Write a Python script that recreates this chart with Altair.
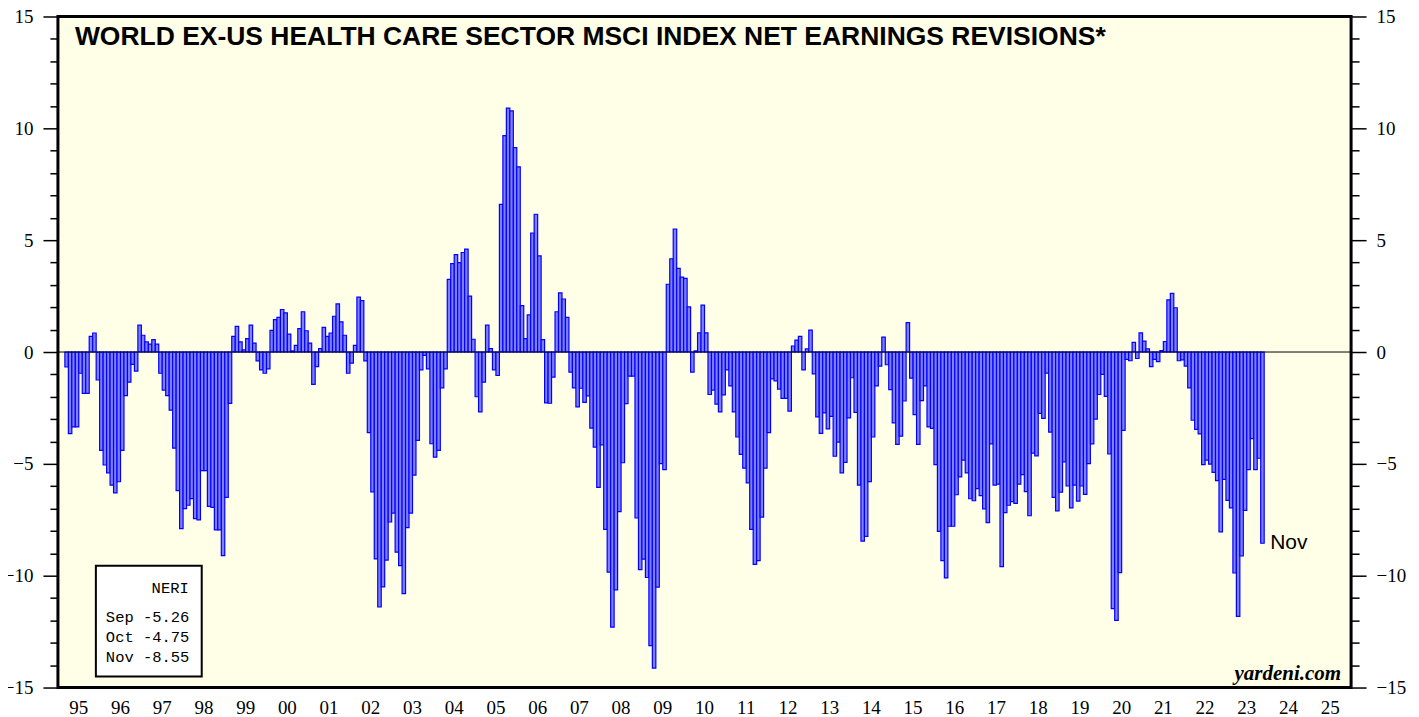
import altair as alt
import pandas as pd

# ---- data (monthly NERI, % ) ----
first_month_1995 = 3  # series starts March 1995
v1995 = [-0.67, -3.65, -3.35, -3.35, -0.95, -1.85, -1.85, 0.7, 0.85, -1.25]
v1996 = [-4.4, -5.05, -5.4, -5.95, -6.3, -5.8, -4.4, -1.95, -1.35, -0.55, -0.85, 1.2]
v1997 = [0.75, 0.45, 0.35, 0.55, 0.35, -0.95, -1.7, -1.95, -2.6, -4.3, -6.2, -7.9]
v1998 = [-7.0, -6.85, -6.55, -7.45, -7.5, -5.3, -5.3, -6.9, -6.95, -7.95, -7.95, -9.1]
v1999 = [-6.5, -2.3, 0.7, 1.15, 0.45, 0.1, 0.6, 1.2, 0.4, -0.4, -0.8, -0.95]
v2000 = [-0.75, 0.97, 1.45, 1.55, 1.9, 1.75, 0.8, 0.05, 0.3, 1.05, 1.8, 0.95]
v2001 = [0.4, -1.45, -0.65, 0.15, 1.1, 0.7, 0.85, 1.6, 2.15, 1.35, 0.75, -0.95]
v2002 = [-0.5, 0.3, 2.45, 2.3, -0.4, -3.6, -6.25, -9.25, -11.4, -10.5, -9.3, -7.6]
v2003 = [-7.2, -8.95, -9.55, -10.8, -7.85, -7.2, -5.5, -3.95, -0.8, -0.15, -0.75, -4.1]
v2004 = [-4.7, -4.4, -1.6, -0.75, 3.25, 3.95, 4.35, 4.0, 4.45, 4.6, 2.5, 0.57]
v2005 = [-2.0, -2.68, -1.35, 1.2, 0.15, -0.8, -1.05, 6.6, 9.67, 10.9, 10.78, 9.14]
v2006 = [8.28, 2.07, 0.6, 1.66, 5.32, 6.16, 4.3, 0.55, -2.27, -2.29, -1.12, 1.8]
v2007 = [2.64, 2.37, 1.55, -0.9, -1.6, -2.45, -1.62, -2.25, -1.96, -3.4, -4.25, -6.05]
v2008 = [-4.15, -7.93, -9.84, -12.3, -10.63, -7.14, -4.95, -2.31, -1.08, -1.08, -7.42, -9.73]
v2009 = [-9.26, -10.08, -13.13, -14.13, -10.51, -4.99, -5.26, 3.03, 4.17, 5.5, 3.74, 3.35]
v2010 = [3.29, 2.02, -0.9, 0.05, 0.86, 2.1, 0.86, -1.9, -1.7, -2.33, -2.68, -1.92]
v2011 = [-0.8, -1.51, -2.68, -3.8, -4.58, -5.19, -5.85, -7.93, -9.49, -9.33, -7.38, -5.19]
v2012 = [-3.6, -1.2, -1.29, -1.66, -2.07, -2.07, -2.64, 0.27, 0.53, 0.7, -0.8, 0.14]
v2013 = [0.98, -0.98, -2.9, -3.64, -2.72, -3.44, -2.88, -4.66, -4.03, -5.4, -4.93, -2.94]
v2014 = [-1.15, -2.7, -5.95, -8.45, -8.24, -5.79, -3.8, -1.51, -0.63, 0.67, -0.57, -1.68]
v2015 = [-3.17, -4.13, -3.76, -2.19, 1.31, -1.17, -2.8, -4.13, -2.17, -1.51, -3.35, -3.41]
v2016 = [-5.03, -8.02, -9.33, -10.1, -7.79, -7.79, -6.38, -5.58, -4.83, -5.4, -6.56, -6.65]
v2017 = [-6.11, -6.42, -7.01, -7.63, -4.11, -5.95, -5.91, -9.59, -7.18, -6.85, -6.69, -6.77]
v2018 = [-5.91, -5.48, -6.24, -7.32, -4.52, -4.64, -2.74, -2.97, -0.94, -3.58, -6.5, -7.1]
v2019 = [-6.26, -4.91, -5.99, -6.97, -5.95, -6.67, -5.99, -6.36, -4.99, -4.11, -3.0, -1.9]
v2020 = [-1.0, -1.98, -4.56, -11.47, -12.0, -9.86, -3.5, -0.33, -0.39, 0.43, -0.29, 0.86]
v2021 = [0.49, 0.14, -0.65, -0.33, -0.43, 0.06, 0.47, 2.33, 2.62, 1.98, -0.39, -0.35]
v2022 = [-0.63, -1.6, -3.05, -3.46, -3.66, -5.03, -4.83, -5.01, -5.38, -5.75, -8.04, -5.69]
v2023 = [-6.63, -6.97, -9.88, -11.82, -9.12, -7.08, -5.26, -3.87, -5.26, -4.75, -8.55]

year_lists = {
    1995: v1995, 1996: v1996, 1997: v1997, 1998: v1998, 1999: v1999,
    2000: v2000, 2001: v2001, 2002: v2002, 2003: v2003, 2004: v2004,
    2005: v2005, 2006: v2006, 2007: v2007, 2008: v2008, 2009: v2009,
    2010: v2010, 2011: v2011, 2012: v2012, 2013: v2013, 2014: v2014,
    2015: v2015, 2016: v2016, 2017: v2017, 2018: v2018, 2019: v2019,
    2020: v2020, 2021: v2021, 2022: v2022, 2023: v2023,
}
month_names = ["Jan", "Feb", "Mar", "Apr", "May", "Jun",
               "Jul", "Aug", "Sep", "Oct", "Nov", "Dec"]
axis_years = list(range(1995, 2026))
y_ticks = list(range(-15, 16))

title_text = "WORLD EX-US HEALTH CARE SECTOR MSCI INDEX NET EARNINGS REVISIONS*"
source_text = "yardeni.com"
legend_title = "NERI"

# ---- build table ----
rows = []
for yr, vals in year_lists.items():
    m0 = first_month_1995 if yr == 1995 else 1
    for k, v in enumerate(vals):
        m = m0 + k
        rows.append({"t0": yr + (m - 1) / 12.0, "t1": yr + m / 12.0,
                     "v": v, "z": 0.0, "mon": month_names[m - 1]})
df = pd.DataFrame(rows)
last = df.iloc[-1:]
legend_rows = df.iloc[-3:].reset_index(drop=True)
legend_rows["txt"] = [f"{r.mon} {r.v:.2f}" for r in legend_rows.itertuples()]
legend_rows["ly"] = [606, 626, 646]

W, H = 1295, 672
xs = alt.Scale(domain=[1995, 2026], nice=False, zero=False)
ys = alt.Scale(domain=[-15, 15], nice=False, zero=False)

serif = "Liberation Serif"
ax_common = dict(values=y_ticks, grid=False, domain=False,
                 labelExpr="datum.value % 5 === 0 ? datum.label : ''",
                 tickSize={"condition": {"test": "datum.value % 5 === 0", "value": 15}, "value": 8},
                 tickWidth=1.5, tickColor="black", labelFont=serif, labelFontSize=19,
                 labelColor="black", labelPadding=10, title=None)

bars = alt.Chart(df).mark_bar(fill="#8080ff", stroke="#0000ff", strokeWidth=1.2).encode(
    x=alt.X("t0:Q", scale=xs,
            axis=alt.Axis(values=axis_years + [2026], labels=False, domain=False, grid=False,
                          tickSize=15, tickWidth=1.5, tickColor="black", title=None)),
    x2="t1:Q",
    y=alt.Y("v:Q", scale=ys, axis=alt.Axis(orient="left", **ax_common)),
    y2="z:Q",
)

right_axis = alt.Chart(pd.DataFrame({"v": [0.0]})).mark_point(opacity=0).encode(
    y=alt.Y("v:Q", scale=ys, axis=alt.Axis(orient="right", **ax_common)),
)

zero = alt.Chart(pd.DataFrame({"v": [0.0]})).mark_rule(color="black", strokeWidth=1).encode(
    y=alt.Y("v:Q", scale=ys, axis=None)
)

years_df = pd.DataFrame({"xm": [y + 0.5 for y in axis_years],
                         "lab": [f"{y % 100:02d}" for y in axis_years]})
year_labels = alt.Chart(years_df).mark_text(font=serif, fontSize=19, baseline="alphabetic",
                                            align="center", color="black").encode(
    x=alt.X("xm:Q", scale=xs, axis=None), y=alt.value(H + 27), text="lab:N")

title = alt.Chart(pd.DataFrame({"t": [title_text]})).mark_text(
    font="Liberation Sans", fontWeight="bold", fontSize=26.5, align="left",
    baseline="alphabetic", color="black").encode(x=alt.value(17), y=alt.value(29), text="t:N")

source = alt.Chart(pd.DataFrame({"t": [source_text]})).mark_text(
    font=serif, fontWeight="bold", fontStyle="italic", fontSize=21, align="right",
    baseline="alphabetic", color="black").encode(x=alt.value(1285), y=alt.value(664), text="t:N")

nov_label = alt.Chart(last).mark_text(font="Liberation Sans", fontSize=21, align="left",
                                      baseline="middle", dx=6, color="black").encode(
    x=alt.X("t1:Q", scale=xs, axis=None), y=alt.Y("v:Q", scale=ys, axis=None), text="mon:N")

box = alt.Chart(pd.DataFrame({"a": [0]})).mark_rect(fill="white", stroke="black", strokeWidth=2).encode(
    x=alt.value(38), x2=alt.value(144), y=alt.value(550), y2=alt.value(661))

box_title = alt.Chart(pd.DataFrame({"t": [legend_title]})).mark_text(
    font="Liberation Mono", fontSize=15.5, align="right", baseline="alphabetic", color="black").encode(
    x=alt.value(131), y=alt.value(577), text="t:N")

box_lines = alt.Chart(legend_rows).mark_text(
    font="Liberation Mono", fontSize=15.5, align="left", baseline="alphabetic", color="black").encode(
    x=alt.value(48), y=alt.Y("ly:Q", scale=None, axis=None), text="txt:N")

chart = alt.layer(bars, right_axis, zero, year_labels, title, source, nov_label,
                  box, box_title, box_lines).resolve_axis(y="independent").properties(
    width=W, height=H,
    autosize=alt.AutoSizeParams(type="none"),
    padding={"left": 50, "top": 8, "right": 60, "bottom": 30},
    background="white",
).configure_view(fill="#fffee6", stroke="black", strokeWidth=3)

chart.save("out.html", embed_options={"renderer": "svg", "actions": False})
